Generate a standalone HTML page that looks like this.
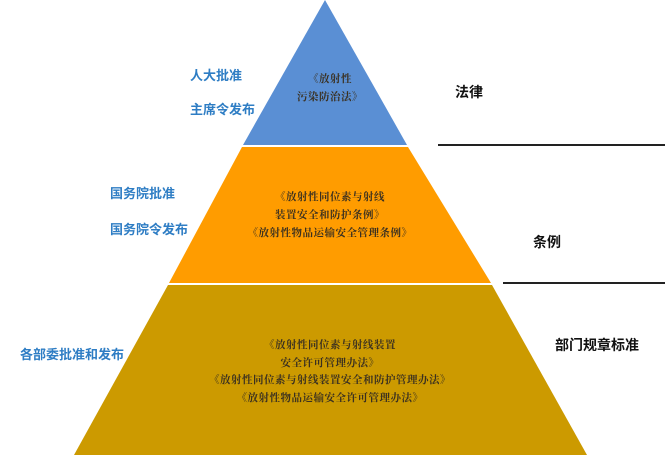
<!DOCTYPE html>
<html><head><meta charset="utf-8"><style>
body{margin:0;width:665px;height:463px;background:#fff;position:relative;overflow:hidden;font-family:"Liberation Sans","Noto Sans CJK SC",sans-serif}
.t{position:absolute;white-space:nowrap;font-weight:bold}
.b{color:#2e7dc4;font-size:13px}
.k{color:#111;font-size:14px}
.c{position:absolute;text-align:center;font-family:"Liberation Serif","Noto Serif CJK SC",serif;font-size:10.5px;font-weight:bold;color:#3a3020;line-height:18px;white-space:nowrap;letter-spacing:0.5px}
</style></head><body>
<svg width="665" height="463" style="position:absolute;left:0;top:0">
<polygon points="325,0 407,145 243,145" fill="#5a8fd4"/>
<polygon points="242,147 408,147 491,283 169,283" fill="#ff9c00"/>
<polygon points="168,285 492,285 587,455 74,455" fill="#cc9a00"/>
<line x1="438" y1="145" x2="665" y2="145" stroke="#222" stroke-width="2"/>
<line x1="503" y1="283" x2="665" y2="283" stroke="#222" stroke-width="2"/>
</svg>
<div class="t b" style="left:190px;top:65px">人大批准</div>
<div class="t b" style="left:190px;top:99px">主席令发布</div>
<div class="t b" style="left:110px;top:183px">国务院批准</div>
<div class="t b" style="left:110px;top:219px">国务院令发布</div>
<div class="t b" style="left:20px;top:344px">各部委批准和发布</div>
<div class="t k" style="left:455px;top:82px">法律</div>
<div class="t k" style="left:533px;top:232px">条例</div>
<div class="t k" style="left:555px;top:335px">部门规章标准</div>
<div class="c" style="left:255px;width:150px;top:71px">《放射性<br>污染防治法》</div>
<div class="c" style="left:230px;width:200px;top:189px">《放射性同位素与射线<br>装置安全和防护条例》<br>《放射性物品运输安全管理条例》</div>
<div class="c" style="left:180px;width:300px;top:337px;line-height:17.5px">《放射性同位素与射线装置<br>安全许可管理办法》<br>《放射性同位素与射线装置安全和防护管理办法》<br>《放射性物品运输安全许可管理办法》</div>
</body></html>
